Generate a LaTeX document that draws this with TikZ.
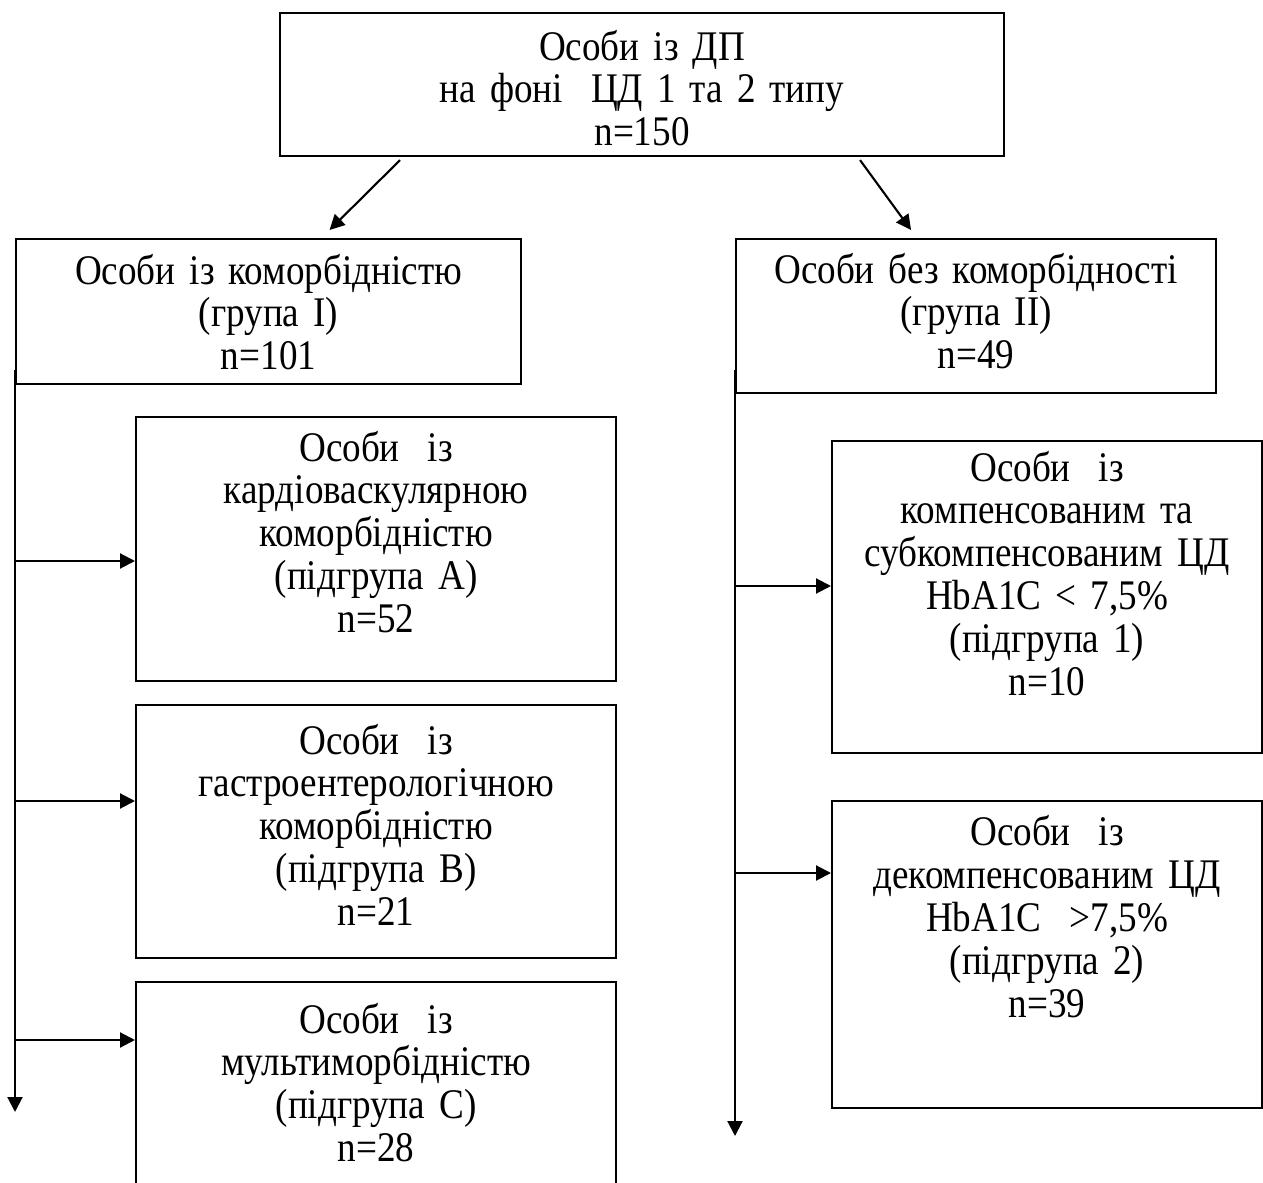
\documentclass[tikz,border=0pt]{standalone}
\usepackage{fontspec}
\setmainfont{Liberation Serif}[FakeStretch=0.88]
\usetikzlibrary{arrows.meta,positioning}

\tikzset{
  >=Triangle,
  % --- boxes ---------------------------------------------------------------
  box/.style   = {draw, line width=0.6pt, align=center, inner sep=0pt,
                  anchor=north west,
                  font=\fontsize{12}{12.2}\selectfont},
  % --- connectors ----------------------------------------------------------
  flow/.style  = {draw, line width=0.6pt,
                  -{Triangle[length=1.5mm,width=1.5mm]}},
}

\begin{document}
\begin{tikzpicture}[x=0.1mm, y=-0.1mm]
\useasboundingbox (0,0) rectangle (1263,1183);

% ------------------------------- whole sample ------------------------------
\node[box, text width=72.4mm, text height=4.7mm, text depth=9.6mm]
     (all) at (279,12) {Особи із ДП\\ на фоні\ \ ЦД 1 та 2 типу\\ n=150};

% ------------------------------- groups ------------------------------------
\node[box, text width=50.5mm, text height=4.5mm, text depth=10mm]
     (grpI) at (15,238) {Особи із коморбідністю\\ (група I)\\ n=101};
\node[box, text width=48mm, text height=4.4mm, text depth=11mm]
     (grpII) at (735,238) {Особи без коморбідності\\ (група II)\\ n=49};

% ------------------------------ subgroups I --------------------------------
\node[box, text width=48mm, text height=4.4mm, text depth=22mm]
     (subA) at (135,416)
     {Особи\ \ із\\ кардіоваскулярною\\ коморбідністю\\ (підгрупа А)\\ n=52};
\node[box, text width=48mm, text height=4.9mm, text depth=20.4mm]
     (subB) at (135,704)
     {Особи\ \ із\\ гастроентерологічною\\ коморбідністю\\ (підгрупа В)\\ n=21};
\node[box, text width=48mm, text height=5.1mm, text depth=16.8mm]
     (subC) at (135,981)
     {Особи\ \ із\\ мультиморбідністю\\ (підгрупа С)\\ n=28};

% ------------------------------ subgroups II -------------------------------
\node[box, text width=43mm, text height=4.0mm, text depth=27.2mm]
     (sub1) at (831,440)
     {Особи\ \ із\\ компенсованим та\\ субкомпенсованим ЦД\\ HbA1C < 7,5\%\\ (підгрупа 1)\\ n=10};
\node[box, text width=43mm, text height=4.45mm, text depth=26.2mm]
     (sub2) at (831,800)
     {Особи\ \ із\\ декомпенсованим ЦД\\ HbA1C\ \ >7,5\%\\ (підгрупа 2)\\ n=39};

% ------------------------------- branch points -----------------------------
\coordinate (jA)   at (15,561);
\coordinate (jB)   at (15,801);
\coordinate (jC)   at (15,1040);
\coordinate (endI) at (15,1112);
\coordinate (j1)   at (735,586);
\coordinate (j2)   at (735,873);
\coordinate (endII) at (735,1136);

% ------------------------------- flow --------------------------------------
\draw[flow] ([xshift=-24.2mm,yshift=-0.3mm]all.south)
         -- ([xshift=6.1mm,yshift=0.8mm]grpI.north);
\draw[flow] ([xshift=21.8mm,yshift=-0.3mm]all.south)
         -- ([xshift=-6.5mm,yshift=0.8mm]grpII.north);

\draw[flow] ([yshift=1.5mm]grpI.south west) -- (endI);
\foreach \j/\b in {jA/subA, jB/subB, jC/subC}{ \draw[flow] (\j) -- (\j -| \b.west); }

\draw[flow] ([yshift=2.4mm]grpII.south west) -- (endII);
\foreach \j/\b in {j1/sub1, j2/sub2}{ \draw[flow] (\j) -- (\j -| \b.west); }

\end{tikzpicture}
\end{document}
